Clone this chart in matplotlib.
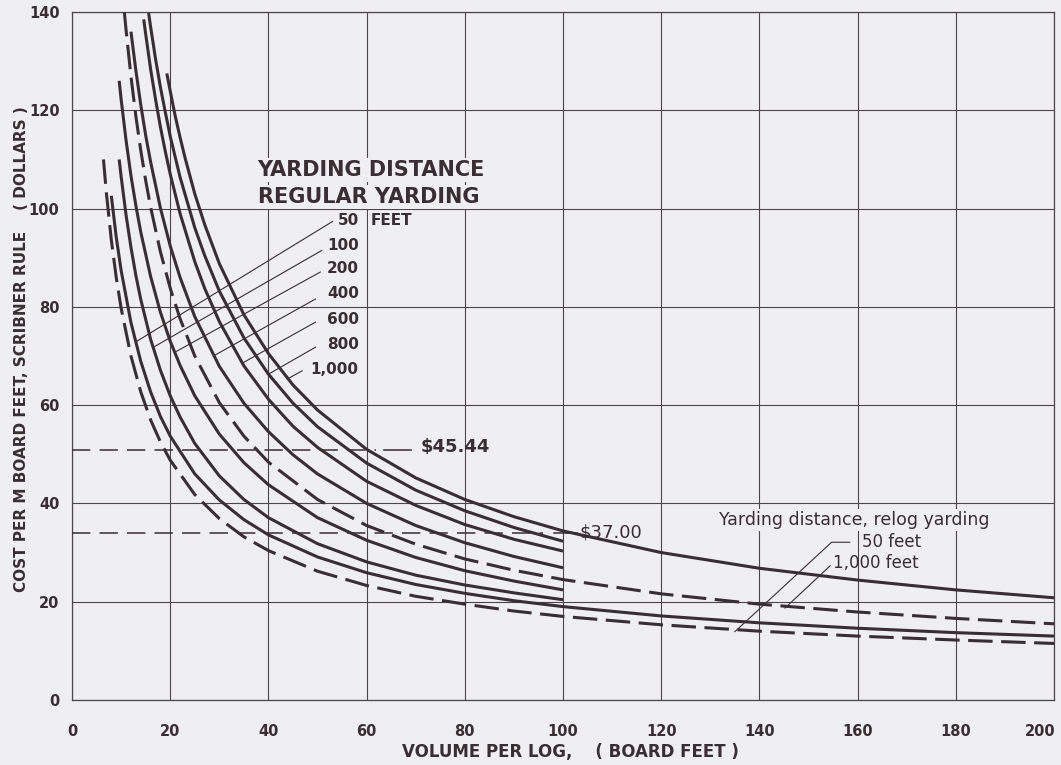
import matplotlib.pyplot as plt
from matplotlib.transforms import ScaledTranslation

# values: volume per log (board feet) -> cost per M bd ft (dollars)
relog50_x = [6.4, 7, 8, 9, 10, 12, 14, 16, 18, 20, 25, 30, 35, 40, 50, 60, 70, 80, 90, 100,
             120, 140, 160, 180, 200]
relog50_y = [110.0, 103.1, 93.6, 86.0, 79.7, 70.0, 62.7, 57.0, 52.5, 48.8, 41.8, 36.9, 33.2,
             30.4, 26.2, 23.3, 21.1, 19.5, 18.1, 17.0, 15.3, 14.0, 13.0, 12.2, 11.5]

reg50_x = [8, 9, 10, 12, 14, 16, 18, 20, 25, 30, 35, 40, 50, 60, 70, 80, 90, 100,
           120, 140, 160, 180, 200]
reg50_y = [102.6, 94.2, 87.4, 76.8, 68.9, 62.7, 57.7, 53.7, 46.0, 40.7, 36.7, 33.6,
           29.1, 25.9, 23.5, 21.7, 20.2, 19.0, 17.1, 15.7, 14.6, 13.7, 13.0]

reg100_x = [9.6, 10, 11, 12, 13, 14, 16, 18, 20, 22, 25, 30, 35, 40, 50, 60, 70, 80, 90, 100]
reg100_y = [110.0, 106.5, 98.7, 92.1, 86.4, 81.5, 73.4, 67.1, 61.9, 57.6, 52.2, 45.6, 40.8,
            37.1, 31.8, 28.1, 25.4, 23.4, 21.8, 20.4]

reg200_x = [9.6, 10, 11, 12, 13, 14, 16, 18, 20, 22, 25, 30, 35, 40, 50, 60, 70, 80, 90, 100]
reg200_y = [126.0, 122.2, 113.9, 106.7, 100.6, 95.2, 86.2, 78.9, 73.0, 68.1, 61.9, 54.1,
            48.3, 43.8, 37.1, 32.5, 29.0, 26.3, 24.2, 22.4]

relog1000_x = [10.65, 11, 12, 13, 14, 15, 16, 18, 20, 22, 25, 30, 35, 40, 50, 60, 70, 80, 90,
               100, 120, 140, 160, 180, 200]
relog1000_y = [140.0, 136.4, 126.9, 118.8, 111.8, 105.7, 100.3, 91.2, 83.8, 77.6, 70.0, 60.5,
               53.7, 48.4, 40.8, 35.5, 31.7, 28.7, 26.4, 24.5, 21.6, 19.5, 17.9, 16.6, 15.5]

reg400_x = [12, 13, 14, 15, 16, 18, 20, 22, 25, 30, 35, 40, 45, 50, 60, 70, 80, 90, 100]
reg400_y = [136.0, 128.1, 121.1, 114.9, 109.5, 100.1, 92.4, 86.0, 78.0, 67.9, 60.4, 54.6,
            49.9, 46.0, 40.0, 35.5, 32.0, 29.2, 26.9]

reg600_x = [14.6, 15, 16, 17, 18, 19, 20, 22, 25, 27, 30, 35, 40, 45, 50, 60, 70, 80, 90, 100]
reg600_y = [138.5, 135.5, 128.4, 122.3, 116.6, 111.6, 107.0, 99.0, 89.2, 83.8, 77.0, 68.0,
            61.2, 55.7, 51.4, 44.5, 39.6, 35.7, 32.7, 30.3]

reg800_x = [15.6, 16, 17, 18, 19, 20, 22, 25, 27, 30, 35, 40, 45, 50, 60, 70, 80, 90, 100]
reg800_y = [139.8, 137.0, 130.5, 124.7, 119.6, 114.7, 106.4, 96.1, 90.5, 83.2, 73.7, 66.3,
            60.4, 55.6, 48.2, 42.7, 38.5, 35.1, 32.3]

reg1000_x = [19.3, 20, 21, 22, 23, 25, 27, 30, 35, 40, 45, 50, 60, 70, 80, 90, 100, 120, 140,
             160, 180, 200]
reg1000_y = [127.5, 123.9, 118.9, 114.5, 110.4, 103.0, 96.8, 88.8, 78.4, 70.5, 64.1, 59.0,
             51.0, 45.2, 40.8, 37.3, 34.4, 30.0, 26.8, 24.4, 22.4, 20.8]

solid_curves = [(reg50_x, reg50_y), (reg100_x, reg100_y), (reg200_x, reg200_y),
                (reg400_x, reg400_y), (reg600_x, reg600_y), (reg800_x, reg800_y),
                (reg1000_x, reg1000_y)]
dashed_curves = [(relog50_x, relog50_y), (relog1000_x, relog1000_y)]

# regular yarding labels and where their leaders touch the curves
reg_labels = ['50', '100', '200', '400', '600', '800', '1,000']
reg_label_y = [97.6, 92.5, 87.8, 82.7, 77.4, 72.4, 67.3]
reg_leader_from = [(53.1, 97.4), (50.9, 91.5), (50.6, 87.1), (49.6, 81.6),
                   (49.6, 76.9), (49.6, 71.8), (46.9, 67.0)]
reg_leader_to = [(13.2, 73.0), (16.6, 71.8), (21.0, 70.8), (28.8, 70.0),
                 (34.6, 68.5), (40.0, 66.3), (43.8, 65.3)]

# the two cost reference lines
ref_levels = [50.8, 34.0]
ref_ends = [62.0, 96.0]
ref_labels = ['$45.44', '$37.00']

ink = '#3a2e32'
grid_ink = '#4d474b'
bg = '#efeef0'
plt.rcParams['font.family'] = ['DejaVu Sans']

fig = plt.figure(figsize=(10.61, 7.65), dpi=100, facecolor=bg)
ax = fig.add_axes([0.0679, 0.085, 0.9255, 0.8993], facecolor=bg)

for xs, ys in solid_curves:
    ax.plot(xs, ys, color=ink, lw=2.2, solid_capstyle='butt', zorder=3)
for xs, ys in dashed_curves:
    ax.plot(xs, ys, color=ink, lw=2.2, dashes=(8, 2.8), dash_capstyle='butt', zorder=3)

# dashed cost levels with their tags
ax.hlines(ref_levels, 0, ref_ends, colors=ink, lw=1.1, linestyles=(0, (12, 6)), zorder=3)
ax.plot([63.5, 69], [ref_levels[0]] * 2, color=ink, lw=1.1, zorder=3)
ax.text(71, ref_levels[0] + 0.6, ref_labels[0], fontsize=13, fontweight='bold',
        color=ink, va='center', ha='left')
ax.plot([98.2, 102.9], [ref_levels[1]] * 2, color=ink, lw=1.1, zorder=3)
ax.text(103.3, ref_levels[1] + 0.1, ref_labels[1], fontsize=13, color=ink,
        va='center', ha='left')

box = dict(facecolor=bg, edgecolor='none', pad=1.5)
ax.text(37.8, 107.8, 'YARDING DISTANCE', fontsize=15, fontweight='bold', color=ink,
        va='center', ha='left', bbox=box, zorder=4)
ax.text(37.8, 102.4, 'REGULAR YARDING', fontsize=15, fontweight='bold', color=ink,
        va='center', ha='left', bbox=box, zorder=4)

for lab, ly, p0, p1 in zip(reg_labels, reg_label_y, reg_leader_from, reg_leader_to):
    ax.annotate('', xy=p1, xytext=p0,
                arrowprops=dict(arrowstyle='-', color=ink, lw=0.8, shrinkA=0, shrinkB=0))
    ax.text(58.4, ly, lab, fontsize=11, fontweight='bold', color=ink,
            va='center', ha='right', bbox=box, zorder=4)
ax.text(60.8, reg_label_y[0], 'FEET', fontsize=11, fontweight='bold', color=ink,
        va='center', ha='left', bbox=box, zorder=4)

# relog yarding legend
ax.text(131.8, 36.7, 'Yarding distance, relog yarding', fontsize=12.5, color=ink,
        va='center', ha='left', bbox=box, zorder=4)
ax.text(160.8, 32.1, '50 feet', fontsize=12, color=ink, va='center', ha='left', zorder=4)
ax.text(155.0, 27.9, '1,000 feet', fontsize=12, color=ink, va='center', ha='left', zorder=4)
ax.plot([158.4, 154.7, 135.0], [32.1, 32.1, 13.9], color=ink, lw=0.8, zorder=3)
ax.plot([154.4, 145.2], [27.3, 18.7], color=ink, lw=0.8, zorder=3)

ax.set_xlim(0, 200)
ax.set_ylim(0, 140)
ax.set_xticks(range(0, 201, 20))
ax.set_yticks(range(0, 141, 20))
ax.grid(True, color=grid_ink, lw=0.8)
ax.set_axisbelow(True)
for s in ax.spines.values():
    s.set_color(grid_ink)
    s.set_linewidth(0.9)
ax.tick_params(length=0, labelsize=10.5, labelcolor=ink)
ax.tick_params(axis='x', pad=17)
ax.tick_params(axis='y', pad=9)
for t in ax.get_xticklabels() + ax.get_yticklabels():
    t.set_fontweight('bold')
last = ax.get_xticklabels()[-1]
last.set_transform(last.get_transform() + ScaledTranslation(-10 / 72, 0, fig.dpi_scale_trans))

ax.set_xlabel('VOLUME PER LOG,    ( BOARD FEET )', fontsize=12, fontweight='bold',
              color=ink)
ax.xaxis.set_label_coords(0.508, -0.063)
ax.set_ylabel('COST PER M BOARD FEET, SCRIBNER RULE    ( DOLLARS )', fontsize=11,
              fontweight='bold', color=ink)
ax.yaxis.set_label_coords(-0.044, 0.51)

fig.savefig('out.png', dpi=100, facecolor=bg)
